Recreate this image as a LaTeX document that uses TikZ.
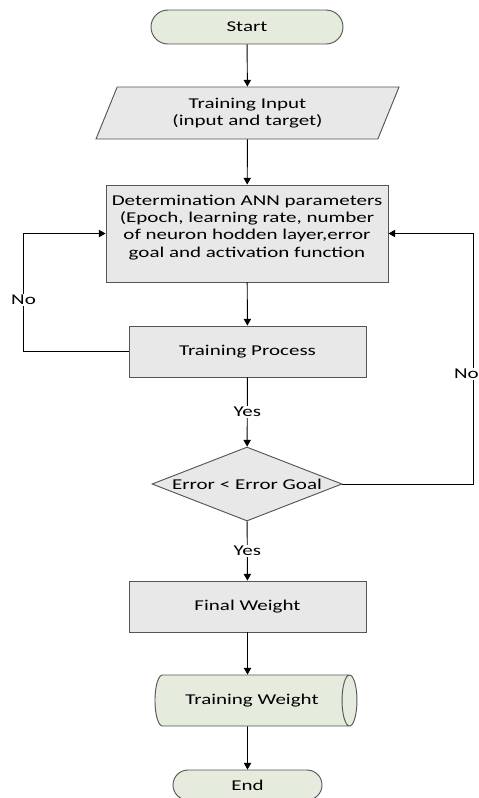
\documentclass[tikz,border=0pt]{standalone}
\usepackage{fontspec}
\setmainfont{Carlito}[FakeStretch=1.4]
\usetikzlibrary{shapes.geometric,shapes.misc,arrows.meta}
\definecolor{boxgray}{RGB}{232,232,232}
\definecolor{termgreen}{RGB}{229,236,222}
\definecolor{edgegray}{RGB}{85,85,85}
\begin{document}
\begin{tikzpicture}[x=0.03cm,y=0.03cm,font=\fontsize{12.8}{14.8}\selectfont,
  base/.style={draw=edgegray,line width=0.8pt,inner sep=0pt,align=center},
  term/.style={base,rounded rectangle,fill=termgreen},
  proc/.style={base,rectangle,fill=boxgray},
  io/.style={base,trapezium,trapezium left angle=55,trapezium right angle=125,trapezium stretches body,fill=boxgray},
  test/.style={base,diamond,aspect=2.57,fill=boxgray},
  store/.style={base,cylinder,aspect=1.15,fill=termgreen},
  arr/.style={-{Triangle[length=0.2cm,width=0.22cm]},line width=0.8pt},
  tag/.style={fill=white,inner sep=1pt}]
\useasboundingbox (0,0) rectangle (479,-798);
\node[term,minimum width=5.76cm,minimum height=1.02cm] (start) at (247,-27) {Start};
\node[io,minimum width=9.09cm,minimum height=1.56cm] (input) at (247.5,-113) {Training Input\\(input and target)};
\node[proc,minimum width=8.46cm,minimum height=2.91cm] (param) at (247,-233.5) {Determination ANN parameters\\(Epoch, learning rate, number\\of neuron hodden layer,error\\goal and activation function\\[-2pt]\mbox{}};
\node[proc,minimum width=7.11cm,minimum height=1.53cm] (train) at (247.5,-351.5) {Training Process};
\node[test,minimum width=5.7cm,minimum height=2.22cm] (check) at (247,-484) {Error < Error Goal};
\node[proc,minimum width=7.11cm,minimum height=1.53cm] (final) at (247.5,-606.5) {Final Weight};
\node[store,minimum height=6.06cm,minimum width=1.53cm] (weight) at (252,-700.5) {Training Weight};
\node[term,minimum width=4.47cm,minimum height=0.9cm] (end) at (247.5,-785) {End};
% main flow
\draw[arr] (start) -- (input);
\draw[arr] (input) -- (param);
\draw[arr] (param) -- (train);
\draw[arr] (train) -- node[tag]{Yes} (check);
\draw[arr] (check) -- node[tag]{Yes} (final);
\draw[arr] (final) -- (final.south |- weight.north);
\draw[arr] (final.south |- weight.south) -- (end);
% loops back
\draw[arr] (train.west) -- ++(-105,0) |- node[tag,pos=0.22]{No} (param.west);
\draw[arr] (check.east) -- ++(131,0) |- node[tag,pos=0.22,xshift=-0.21cm]{No} (param.east);
\end{tikzpicture}
\end{document}
